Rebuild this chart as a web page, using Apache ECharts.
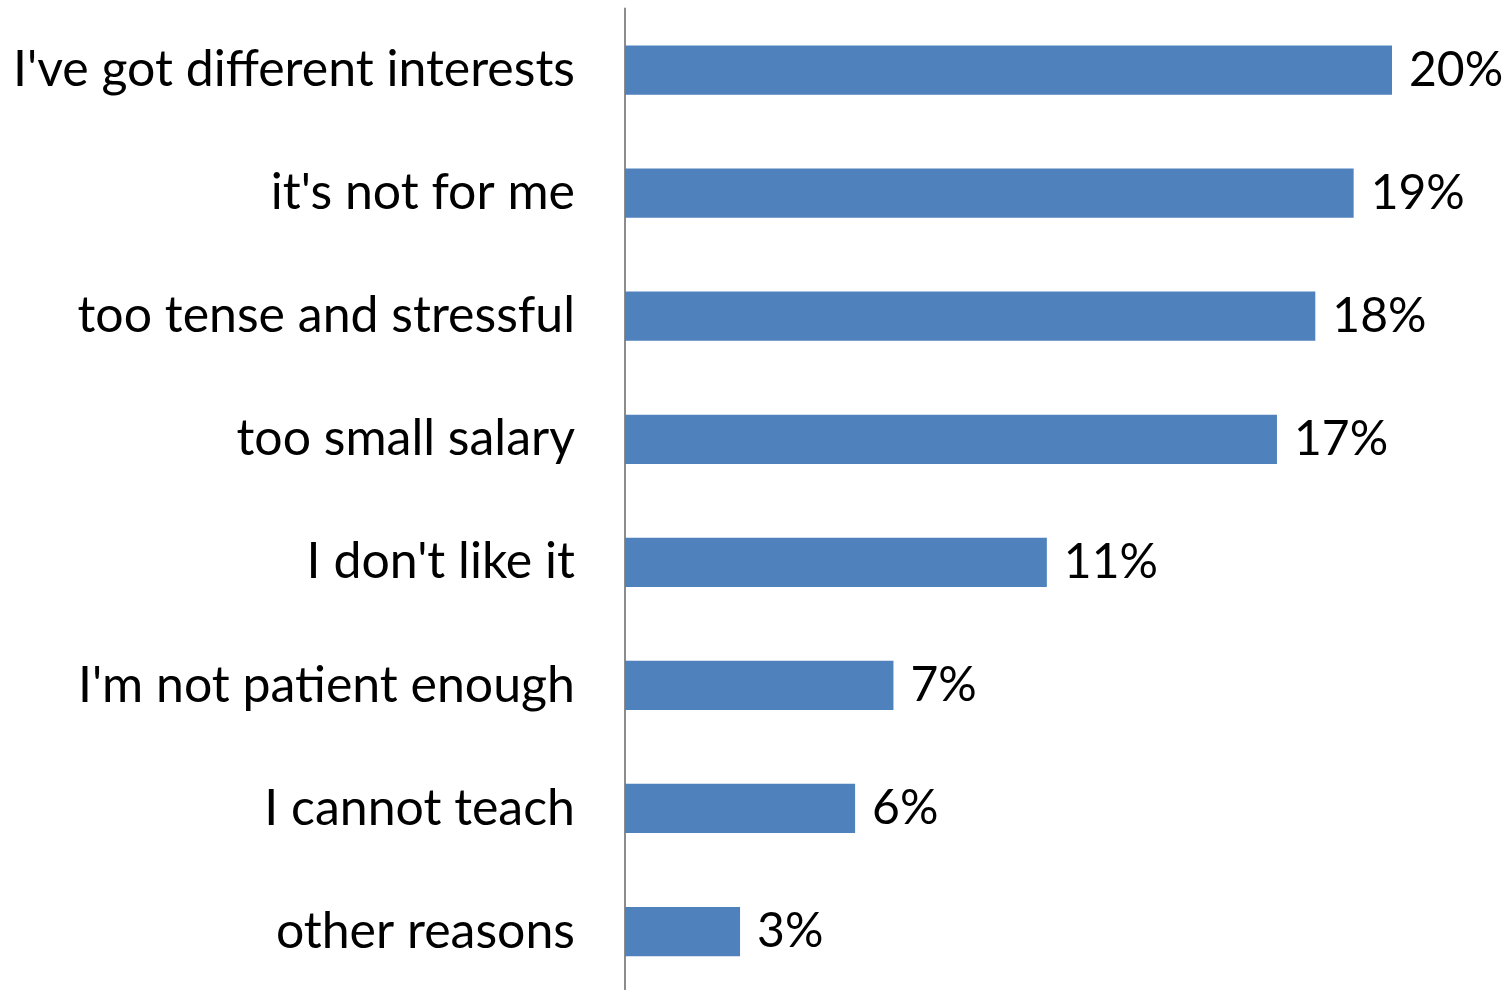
<!DOCTYPE html>
<html>
<head>
<meta charset="utf-8">
<script src="https://cdn.jsdelivr.net/npm/echarts@6/dist/echarts.min.js"></script>
<style>
  html, body { margin: 0; padding: 0; background: #fff; overflow: hidden; }
  /* canvas runs a little past the bottom edge so the last band is full height */
  #chart { width: 1512px; height: 1000px; }
</style>
</head>
<body>
<div id="chart"></div>
<script>
// Reasons for not choosing teaching, share of answers (%)
const reasons = [
  "I've got different interests",
  "it's not for me",
  "too tense and stressful",
  "too small salary",
  "I don't like it",
  "I'm not patient enough",
  "I cannot teach",
  "other reasons"
];
const shares = [20, 19, 18, 17, 11, 7, 6, 3];

const FONT = "Lato, 'Open Sans', sans-serif";

const chart = echarts.init(document.getElementById('chart'), null, { renderer: 'canvas' });
chart.setOption({
  animation: false,
  backgroundColor: '#ffffff',
  grid: { left: 625, right: 120, top: 8.5, height: 984.6, containLabel: false },
  xAxis: {
    type: 'value',
    min: 0,
    max: 20,
    show: false
  },
  yAxis: {
    type: 'category',
    data: reasons,
    inverse: true,
    axisLine: { show: true, lineStyle: { color: '#8c8c8c', width: 2 } },
    axisTick: { show: false },
    axisLabel: {
      margin: 50,
      color: '#000000',
      fontFamily: FONT,
      fontSize: 50
    },
    splitLine: { show: false }
  },
  series: [{
    type: 'bar',
    data: shares,
    barWidth: '40%',
    itemStyle: { color: '#4f81bd' },
    label: {
      show: true,
      position: 'right',
      distance: 17,
      formatter: '{c}%',
      color: '#000000',
      fontFamily: FONT,
      fontSize: 48
    }
  }]
});
</script>
</body>
</html>
